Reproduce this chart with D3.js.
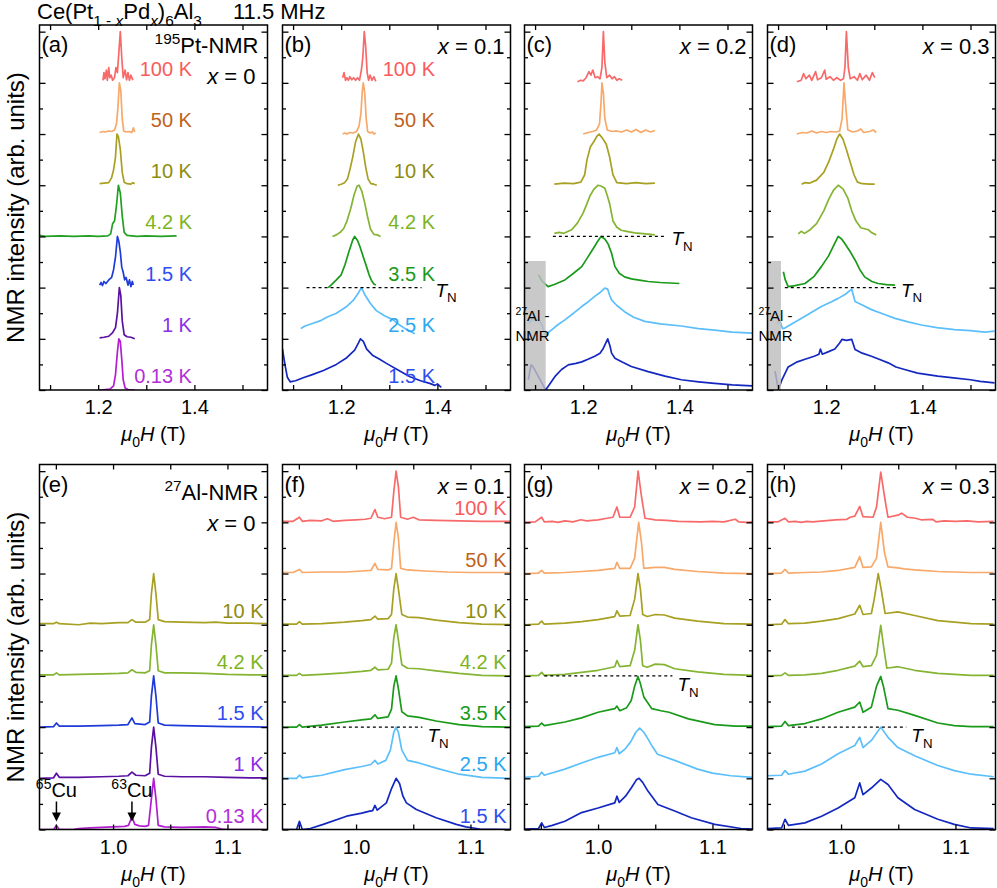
<!DOCTYPE html>
<html>
<head>
<meta charset="utf-8">
<script src="https://cdn.jsdelivr.net/npm/d3@7"></script>
<style>
body { margin: 0; background: #fff; }
svg { font-family: "Liberation Sans", Arial, sans-serif; }
</style>
</head>
<body>
<svg id="chart" width="997" height="888"></svg>
<script>
// field ranges (T) and vertical offsets (one unit per spectrum)
var xTopDomain = [1.078, 1.552];
var xBotDomain = [0.9357, 1.135];
var yMax = 7.13;
var topMajor = [1.2, 1.4], topMinor = [1.1, 1.3, 1.5];
var botMajor = [1.0, 1.1], botMinor = [0.95, 1.05];

var tempsPt0 = ["0.13 K", "1 K", "1.5 K", "4.2 K", "10 K", "50 K", "100 K"];
var tempsAl0 = ["0.13 K", "1 K", "1.5 K", "4.2 K", "10 K"];
var tempsDoped = ["1.5 K", "2.5 K", "3.5 K", "4.2 K", "10 K", "50 K", "100 K"];

var tempNames = ["100 K", "50 K", "10 K", "4.2 K", "3.5 K", "2.5 K", "1.5 K", "1 K", "0.13 K"];
var curveColors = ["#f86a6a", "#f8a868", "#a8a022", "#84b432", "#1a9a1a", "#5cbffc", "#1428c0", "#5a10a0", "#b01ed0"];
var labelColors = ["#fa5a5a", "#c0621c", "#8e8c10", "#7db41e", "#1a9a1a", "#2aa6f2", "#2e4cf0", "#8a2ee6", "#b22ed8"];

// ---- 195Pt-NMR spectra [field, normalised intensity] ----
var a_013K = [[1.203,0],[1.215,0.01],[1.225,0.02],[1.232,0.08],[1.236,0.3],[1.240,0.75],[1.243,1.0],[1.246,0.95],[1.249,0.6],[1.252,0.2],[1.256,0.04],[1.262,0.01],[1.270,0.0],[1.276,0.0]];
var a_1K = [[1.203,0.02],[1.212,0.03],[1.222,0.05],[1.230,0.12],[1.236,0.22],[1.240,0.5],[1.244,1.0],[1.247,0.85],[1.250,0.35],[1.254,0.08],[1.26,0.04],[1.268,0.03],[1.276,0.0]];
var a_15K = [[1.203,0.05],[1.206,0.1],[1.209,0.04],[1.212,0.12],[1.216,0.08],[1.222,0.15],[1.228,0.2],[1.232,0.35],[1.236,0.6],[1.240,1.0],[1.243,0.9],[1.246,0.7],[1.249,0.4],[1.252,0.3],[1.255,0.15],[1.258,0.2],[1.262,0.05],[1.265,0.15],[1.268,0.02],[1.271,0.12],[1.273,0.05]];
var a_42K = [[1.078,0.02],[1.09,0.0],[1.12,0.01],[1.15,0.0],[1.18,0.01],[1.20,0.0],[1.22,0.01],[1.226,0.05],[1.230,0.25],[1.234,0.3],[1.238,0.6],[1.242,1.0],[1.246,0.85],[1.250,0.4],[1.254,0.08],[1.26,0.02],[1.28,0.0],[1.30,0.01],[1.33,0.0],[1.363,0.01]];
var a_10K = [[1.203,0.03],[1.212,0.04],[1.222,0.05],[1.228,0.15],[1.232,0.3],[1.236,0.55],[1.239,1.0],[1.242,0.95],[1.246,0.7],[1.250,0.25],[1.254,0.06],[1.26,0.03],[1.268,0.02],[1.272,0.05],[1.276,0.03]];
var a_50K = [[1.203,0.03],[1.210,0.05],[1.215,0.04],[1.222,0.06],[1.228,0.05],[1.234,0.08],[1.238,0.2],[1.241,0.5],[1.244,1.0],[1.247,0.85],[1.250,0.3],[1.253,0.06],[1.258,0.04],[1.265,0.05],[1.270,0.03],[1.273,0.12],[1.276,0.04]];
var a_100K = [[1.210,0.05],[1.212,0.2],[1.214,0.08],[1.217,0.25],[1.219,0.05],[1.222,0.3],[1.224,0.1],[1.227,0.15],[1.230,0.05],[1.234,0.1],[1.237,0.3],[1.240,0.2],[1.243,0.6],[1.246,1.0],[1.249,0.5],[1.252,0.1],[1.256,0.25],[1.259,0.06],[1.262,0.2],[1.265,0.05],[1.268,0.15],[1.272,0.05]];

var b_15K = [[1.078,0.8],[1.083,0.5],[1.088,0.25],[1.094,0.16],[1.105,0.18],[1.121,0.24],[1.14,0.3],[1.163,0.38],[1.19,0.5],[1.21,0.62],[1.228,0.78],[1.236,0.92],[1.240,1.0],[1.246,0.95],[1.253,0.8],[1.265,0.68],[1.28,0.6],[1.294,0.52],[1.32,0.38],[1.343,0.26],[1.365,0.18],[1.384,0.13],[1.395,0.09],[1.400,0.12],[1.408,0.05]];
var b_25K = [[1.116,0.2],[1.125,0.25],[1.14,0.3],[1.156,0.35],[1.17,0.42],[1.19,0.5],[1.21,0.62],[1.225,0.75],[1.236,0.9],[1.242,1.0],[1.25,0.85],[1.26,0.7],[1.273,0.55],[1.29,0.45],[1.308,0.37],[1.32,0.28],[1.336,0.18],[1.345,0.14],[1.353,0.1]];
var b_35K = [[1.173,0.0],[1.18,0.06],[1.19,0.15],[1.2,0.25],[1.208,0.45],[1.216,0.7],[1.224,0.93],[1.228,1.0],[1.234,0.92],[1.239,0.8],[1.246,0.6],[1.253,0.4],[1.258,0.25],[1.263,0.14],[1.268,0.07],[1.272,0.05]];
var b_42K = [[1.182,0.0],[1.19,0.03],[1.198,0.08],[1.205,0.15],[1.212,0.3],[1.22,0.55],[1.227,0.82],[1.233,0.98],[1.237,1.0],[1.243,0.88],[1.249,0.65],[1.255,0.38],[1.261,0.14],[1.268,0.04],[1.275,0.03],[1.282,0.0]];
var b_10K = [[1.193,0.0],[1.2,0.02],[1.207,0.05],[1.213,0.12],[1.218,0.3],[1.224,0.55],[1.23,0.85],[1.236,1.0],[1.241,0.9],[1.246,0.65],[1.251,0.35],[1.256,0.12],[1.262,0.03],[1.268,0.02],[1.274,0.0]];
var b_50K = [[1.203,0.0],[1.208,0.02],[1.212,0.0],[1.218,0.03],[1.225,0.02],[1.232,0.05],[1.237,0.15],[1.241,0.4],[1.244,0.85],[1.246,1.0],[1.249,0.8],[1.252,0.3],[1.255,0.05],[1.26,0.02],[1.265,0.04],[1.268,0.0],[1.272,0.02]];
var b_100K = [[1.203,0.1],[1.206,0.2],[1.209,0.05],[1.212,0.1],[1.215,0.05],[1.218,0.12],[1.222,0.06],[1.226,0.1],[1.23,0.05],[1.234,0.1],[1.238,0.05],[1.242,0.25],[1.245,0.5],[1.248,1.0],[1.251,0.7],[1.254,0.2],[1.257,0.05],[1.26,0.15],[1.264,0.05],[1.268,0.12],[1.272,0.03]];

var c_15K = [[1.086,0.2],[1.0915,0.49],[1.096,0.45],[1.107,0.26],[1.122,0.0],[1.141,0.26],[1.155,0.4],[1.169,0.49],[1.185,0.52],[1.197,0.55],[1.21,0.6],[1.224,0.66],[1.235,0.72],[1.241,0.8],[1.251,1.0],[1.256,0.85],[1.259,0.72],[1.266,0.62],[1.28,0.55],[1.30,0.46],[1.335,0.36],[1.37,0.27],[1.404,0.2],[1.44,0.16],[1.473,0.13],[1.51,0.1],[1.551,0.08]];
var c_25K = [[1.088,0.3],[1.095,0.4],[1.10,0.35],[1.108,0.38],[1.115,0.25],[1.122,0.08],[1.135,0.18],[1.148,0.28],[1.162,0.37],[1.18,0.5],[1.197,0.63],[1.21,0.72],[1.224,0.83],[1.237,0.92],[1.245,0.99],[1.251,0.97],[1.255,0.85],[1.259,0.76],[1.27,0.65],[1.286,0.53],[1.305,0.42],[1.328,0.34],[1.36,0.29],[1.404,0.25],[1.44,0.2],[1.473,0.17],[1.51,0.13],[1.551,0.11]];
var c_35K = [[1.107,0.25],[1.115,0.12],[1.127,0.02],[1.14,0.06],[1.162,0.15],[1.18,0.28],[1.197,0.41],[1.21,0.6],[1.222,0.78],[1.23,0.9],[1.237,1.0],[1.245,0.95],[1.252,0.85],[1.259,0.67],[1.266,0.41],[1.275,0.28],[1.286,0.21],[1.30,0.17],[1.32,0.14],[1.335,0.12],[1.36,0.1],[1.38,0.09],[1.40,0.08]];
var c_42K = [[1.14,0.06],[1.15,0.08],[1.16,0.06],[1.176,0.13],[1.188,0.26],[1.2,0.46],[1.207,0.62],[1.214,0.79],[1.222,0.92],[1.231,1.0],[1.238,0.98],[1.245,0.94],[1.25,0.8],[1.255,0.64],[1.262,0.3],[1.27,0.18],[1.279,0.12],[1.29,0.1],[1.307,0.07],[1.33,0.05],[1.349,0.03]];
var c_10K = [[1.14,0.02],[1.16,0.04],[1.18,0.03],[1.195,0.06],[1.203,0.2],[1.208,0.5],[1.215,0.75],[1.222,0.85],[1.228,0.95],[1.233,1.0],[1.24,0.92],[1.248,0.8],[1.255,0.55],[1.262,0.2],[1.27,0.05],[1.29,0.03],[1.31,0.05],[1.33,0.03],[1.349,0.04]];
var c_50K = [[1.2,0.0],[1.21,0.03],[1.22,0.05],[1.228,0.08],[1.234,0.2],[1.237,0.6],[1.239,1.0],[1.242,0.8],[1.245,0.3],[1.25,0.08],[1.26,0.05],[1.27,0.06],[1.28,0.04],[1.29,0.08],[1.30,0.04],[1.31,0.09],[1.32,0.03],[1.33,0.08],[1.34,0.04],[1.349,0.07]];
var c_100K = [[1.188,0.02],[1.195,0.05],[1.2,0.04],[1.206,0.1],[1.212,0.22],[1.216,0.15],[1.22,0.25],[1.225,0.1],[1.23,0.12],[1.235,0.08],[1.239,0.3],[1.242,1.0],[1.245,0.4],[1.249,0.1],[1.255,0.15],[1.26,0.08],[1.265,0.12],[1.27,0.05],[1.275,0.08],[1.281,0.05]];

var d_15K = [[1.0936,0.37],[1.097,0.2],[1.1004,0.0],[1.108,0.2],[1.121,0.45],[1.14,0.55],[1.156,0.6],[1.175,0.66],[1.185,0.7],[1.188,0.8],[1.192,0.7],[1.205,0.75],[1.218,0.8],[1.228,0.92],[1.233,0.99],[1.242,0.97],[1.253,0.99],[1.26,0.79],[1.275,0.72],[1.294,0.66],[1.31,0.6],[1.329,0.53],[1.345,0.45],[1.363,0.4],[1.39,0.33],[1.432,0.27],[1.46,0.24],[1.5,0.2],[1.52,0.17],[1.55,0.14]];
var d_25K = [[1.098,0.3],[1.104,0.35],[1.109,0.2],[1.114,0.21],[1.13,0.3],[1.156,0.44],[1.175,0.55],[1.19,0.63],[1.21,0.72],[1.225,0.79],[1.24,0.87],[1.253,0.97],[1.26,0.73],[1.275,0.66],[1.294,0.57],[1.32,0.48],[1.343,0.4],[1.37,0.33],[1.398,0.27],[1.43,0.22],[1.467,0.18],[1.5,0.16],[1.53,0.13],[1.55,0.15]];
var d_35K = [[1.111,0.31],[1.115,0.15],[1.121,0.02],[1.135,0.04],[1.156,0.08],[1.175,0.22],[1.19,0.41],[1.205,0.62],[1.218,0.87],[1.225,1.0],[1.232,0.95],[1.238,0.87],[1.25,0.7],[1.26,0.54],[1.27,0.35],[1.28,0.21],[1.295,0.12],[1.308,0.08],[1.325,0.06],[1.343,0.05]];
var d_42K = [[1.142,0.05],[1.148,0.1],[1.155,0.06],[1.165,0.12],[1.18,0.25],[1.195,0.5],[1.205,0.72],[1.215,0.9],[1.225,1.0],[1.235,0.93],[1.245,0.75],[1.253,0.5],[1.262,0.3],[1.272,0.17],[1.288,0.13],[1.295,0.07],[1.304,0.03]];
var d_10K = [[1.149,0.02],[1.155,0.05],[1.165,0.04],[1.18,0.1],[1.195,0.25],[1.205,0.45],[1.215,0.7],[1.222,0.9],[1.228,1.0],[1.235,0.9],[1.242,0.7],[1.25,0.45],[1.258,0.2],[1.265,0.06],[1.275,0.03],[1.29,0.02],[1.301,0.02]];
var d_50K = [[1.139,0.0],[1.15,0.03],[1.16,0.02],[1.17,0.06],[1.18,0.02],[1.19,0.05],[1.2,0.03],[1.21,0.05],[1.22,0.04],[1.228,0.06],[1.233,0.3],[1.237,1.0],[1.241,0.5],[1.245,0.08],[1.255,0.04],[1.265,0.06],[1.272,0.1],[1.278,0.03],[1.29,0.05],[1.298,0.08],[1.304,0.03]];
var d_100K = [[1.139,0.02],[1.148,0.05],[1.153,0.18],[1.158,0.08],[1.165,0.15],[1.17,0.05],[1.178,0.22],[1.182,0.06],[1.19,0.1],[1.197,0.25],[1.2,0.07],[1.208,0.12],[1.215,0.05],[1.222,0.1],[1.23,0.05],[1.236,0.08],[1.239,0.3],[1.242,1.0],[1.246,0.3],[1.25,0.08],[1.258,0.12],[1.265,0.05],[1.27,0.18],[1.275,0.06],[1.283,0.15],[1.29,0.05],[1.296,0.2],[1.301,0.1]];

// ---- 27Al-NMR spectra ----
var e_013K = [[0.9357,0],[0.948,0],[0.9505,0.08],[0.953,0],[0.965,0.0],[0.97,0.02],[0.98,0.03],[0.99,0.04],[1.0,0.05],[1.01,0.06],[1.0135,0.08],[1.0165,0.25],[1.019,0.1],[1.023,0.07],[1.028,0.06],[1.031,0.08],[1.0335,0.6],[1.0355,1.0],[1.0375,0.6],[1.0395,0.08],[1.045,0.05],[1.06,0.04],[1.08,0.05],[1.09,0.04],[1.095,0.01],[1.10,0.0],[1.135,0.0]];
var e_1K = [[0.9357,0.0],[0.948,0.01],[0.9505,0.1],[0.953,0.02],[0.97,0.02],[0.99,0.03],[1.005,0.04],[1.013,0.05],[1.0165,0.12],[1.02,0.06],[1.028,0.05],[1.032,0.1],[1.0335,0.6],[1.0355,1.0],[1.0375,0.6],[1.0395,0.08],[1.045,0.04],[1.06,0.03],[1.08,0.03],[1.1,0.02],[1.12,0.01],[1.135,0.01]];
var e_15K = [[0.9357,0.0],[0.948,0.01],[0.9505,0.08],[0.953,0.02],[0.97,0.02],[0.99,0.03],[1.005,0.04],[1.013,0.05],[1.0165,0.18],[1.019,0.07],[1.028,0.05],[1.032,0.1],[1.0335,0.6],[1.0355,1.0],[1.0375,0.6],[1.0395,0.08],[1.045,0.04],[1.06,0.03],[1.08,0.02],[1.1,0.01],[1.135,0.0]];
var e_42K = [[0.9357,0.02],[0.948,0.02],[0.9505,0.06],[0.953,0.02],[0.97,0.03],[0.99,0.04],[1.005,0.05],[1.013,0.06],[1.0165,0.12],[1.02,0.07],[1.028,0.06],[1.032,0.1],[1.0335,0.6],[1.0355,1.0],[1.0375,0.6],[1.0395,0.1],[1.045,0.06],[1.06,0.06],[1.08,0.05],[1.1,0.03],[1.12,0.02],[1.135,0.02]];
var e_10K = [[0.9357,0.02],[0.948,0.02],[0.9505,0.05],[0.953,0.02],[0.97,0.0],[0.98,0.03],[0.99,0.02],[1.005,0.04],[1.013,0.04],[1.0165,0.1],[1.02,0.05],[1.028,0.05],[1.032,0.1],[1.0335,0.6],[1.0355,1.0],[1.0375,0.6],[1.0395,0.1],[1.045,0.06],[1.06,0.05],[1.08,0.04],[1.09,0.05],[1.1,0.03],[1.12,0.03],[1.135,0.02]];

var f_15K = [[0.9357,0.0],[0.948,0.0],[0.9505,0.16],[0.953,0.0],[0.96,0.02],[0.9713,0.1],[0.9917,0.26],[1.005,0.32],[1.012,0.36],[1.0145,0.37],[1.0165,0.47],[1.0185,0.38],[1.0265,0.52],[1.031,0.8],[1.035,1.0],[1.038,0.9],[1.041,0.65],[1.044,0.52],[1.0527,0.39],[1.07,0.23],[1.0876,0.1],[1.096,0.05],[1.108,0.01],[1.135,0.0]];
var f_25K = [[0.9357,0.0],[0.948,0.0],[0.9505,0.06],[0.953,0.01],[0.97,0.06],[0.99,0.17],[1.005,0.23],[1.013,0.27],[1.0165,0.35],[1.019,0.28],[1.026,0.35],[1.03,0.55],[1.033,0.9],[1.035,1.0],[1.037,0.9],[1.04,0.55],[1.045,0.35],[1.055,0.3],[1.07,0.2],[1.09,0.08],[1.11,0.02],[1.135,0.0]];
var f_35K = [[0.9357,0.0],[0.948,0.0],[0.9505,0.05],[0.953,0.0],[0.97,0.04],[0.99,0.1],[1.005,0.14],[1.013,0.16],[1.0165,0.24],[1.019,0.17],[1.028,0.2],[1.031,0.35],[1.033,0.8],[1.035,1.0],[1.037,0.75],[1.04,0.3],[1.045,0.22],[1.055,0.19],[1.07,0.12],[1.09,0.05],[1.11,0.01],[1.135,0.0]];
var f_42K = [[0.9357,0.01],[0.948,0.01],[0.9505,0.05],[0.953,0.01],[0.97,0.03],[0.99,0.06],[1.005,0.09],[1.013,0.11],[1.0165,0.17],[1.019,0.12],[1.028,0.13],[1.031,0.25],[1.033,0.75],[1.035,1.0],[1.037,0.7],[1.04,0.22],[1.045,0.15],[1.055,0.14],[1.07,0.1],[1.09,0.05],[1.11,0.01],[1.135,0.0]];
var f_10K = [[0.9357,0.01],[0.948,0.01],[0.9505,0.06],[0.953,0.01],[0.97,0.02],[0.99,0.05],[1.005,0.08],[1.013,0.1],[1.0165,0.17],[1.019,0.11],[1.028,0.12],[1.031,0.2],[1.033,0.7],[1.035,1.0],[1.037,0.7],[1.04,0.2],[1.045,0.15],[1.055,0.14],[1.07,0.09],[1.09,0.04],[1.11,0.01],[1.135,0.0]];
var f_50K = [[0.9357,0.02],[0.945,0.02],[0.9505,0.08],[0.953,0.02],[0.97,0.03],[0.99,0.03],[1.005,0.05],[1.013,0.06],[1.0165,0.2],[1.019,0.08],[1.028,0.07],[1.031,0.1],[1.033,0.6],[1.035,1.0],[1.037,0.7],[1.039,0.1],[1.045,0.07],[1.06,0.05],[1.08,0.03],[1.1,0.02],[1.135,0.02]];
var f_100K = [[0.9357,0.02],[0.945,0.02],[0.9505,0.1],[0.953,0.02],[0.96,0.04],[0.97,0.03],[0.975,0.07],[0.98,0.02],[0.99,0.04],[1.0,0.05],[1.008,0.06],[1.013,0.08],[1.0165,0.25],[1.019,0.1],[1.025,0.07],[1.031,0.1],[1.033,0.6],[1.035,1.0],[1.037,0.7],[1.039,0.1],[1.045,0.06],[1.05,0.1],[1.055,0.05],[1.07,0.04],[1.09,0.03],[1.11,0.02],[1.135,0.02]];

var g_15K = [[0.936,0.01],[0.948,0.02],[0.9507,0.13],[0.953,0.04],[0.96,0.08],[0.971,0.16],[0.9856,0.33],[1.0,0.42],[1.0146,0.52],[1.0165,0.65],[1.0185,0.53],[1.024,0.65],[1.029,0.81],[1.0335,0.97],[1.0358,1.0],[1.039,0.92],[1.0436,0.75],[1.0523,0.49],[1.067,0.36],[1.0815,0.23],[1.102,0.1],[1.125,0.02],[1.135,0.01]];
var g_25K = [[0.936,0.02],[0.948,0.04],[0.9507,0.12],[0.953,0.06],[0.971,0.18],[0.9856,0.3],[1.0,0.41],[1.0146,0.5],[1.0165,0.6],[1.0185,0.48],[1.024,0.58],[1.029,0.73],[1.033,0.9],[1.0364,0.98],[1.04,0.9],[1.0436,0.77],[1.048,0.6],[1.052,0.47],[1.067,0.35],[1.087,0.18],[1.1,0.1],[1.116,0.05],[1.135,0.02]];
var g_35K = [[0.936,0.01],[0.948,0.02],[0.9507,0.08],[0.953,0.03],[0.971,0.1],[0.9856,0.18],[1.0,0.29],[1.0146,0.36],[1.0165,0.41],[1.019,0.32],[1.025,0.38],[1.029,0.52],[1.032,0.8],[1.0349,0.99],[1.037,0.85],[1.04,0.59],[1.047,0.36],[1.055,0.32],[1.062,0.29],[1.079,0.16],[1.102,0.05],[1.12,0.02],[1.135,0.02]];
var g_42K = [[0.936,0.0],[0.948,0.01],[0.9507,0.07],[0.953,0.01],[0.971,0.03],[0.9856,0.07],[1.0,0.11],[1.0146,0.18],[1.0165,0.3],[1.019,0.18],[1.028,0.2],[1.032,0.5],[1.0349,1.0],[1.037,0.7],[1.039,0.2],[1.043,0.17],[1.05,0.23],[1.058,0.22],[1.067,0.14],[1.087,0.08],[1.11,0.03],[1.135,0.01]];
var g_10K = [[0.936,0.0],[0.948,0.01],[0.9507,0.07],[0.953,0.01],[0.971,0.03],[0.9856,0.06],[1.0,0.1],[1.0146,0.16],[1.0165,0.27],[1.019,0.17],[1.028,0.18],[1.032,0.5],[1.0349,1.0],[1.037,0.7],[1.039,0.2],[1.043,0.16],[1.05,0.2],[1.058,0.19],[1.067,0.13],[1.087,0.07],[1.11,0.02],[1.135,0.01]];
var g_50K = [[0.936,0.0],[0.948,0.01],[0.9507,0.06],[0.953,0.01],[0.971,0.02],[0.9856,0.04],[1.0,0.06],[1.0146,0.1],[1.0165,0.22],[1.019,0.1],[1.028,0.1],[1.032,0.3],[1.0355,1.0],[1.038,0.6],[1.04,0.1],[1.05,0.12],[1.058,0.12],[1.067,0.08],[1.087,0.04],[1.11,0.01],[1.135,0.0]];
var g_100K = [[0.936,0.0],[0.945,0.01],[0.9507,0.1],[0.953,0.01],[0.96,0.02],[0.965,0.0],[0.971,0.03],[0.978,0.01],[0.985,0.05],[0.99,0.03],[1.0,0.05],[1.008,0.08],[1.013,0.1],[1.0165,0.3],[1.019,0.1],[1.028,0.1],[1.032,0.3],[1.035,1.0],[1.038,0.5],[1.041,0.08],[1.05,0.05],[1.06,0.04],[1.07,0.02],[1.09,0.01],[1.1,0.02],[1.11,0.01],[1.12,0.06],[1.123,0.01],[1.13,0.0],[1.135,0.01]];

var h_15K = [[0.9357,0.02],[0.948,0.03],[0.951,0.2],[0.954,0.08],[0.9684,0.13],[0.983,0.26],[0.9974,0.42],[1.012,0.62],[1.0163,0.91],[1.0192,0.68],[1.0265,0.81],[1.0347,0.98],[1.041,0.88],[1.0497,0.62],[1.0643,0.39],[1.0846,0.2],[1.099,0.1],[1.1137,0.03],[1.1334,0.02]];
var h_25K = [[0.9357,0.05],[0.948,0.06],[0.951,0.15],[0.954,0.08],[0.9684,0.14],[0.983,0.28],[0.9974,0.48],[1.012,0.64],[1.0163,0.8],[1.0192,0.6],[1.0265,0.74],[1.0347,1.0],[1.041,0.8],[1.0497,0.6],[1.0643,0.44],[1.0846,0.25],[1.099,0.15],[1.1137,0.08],[1.1334,0.03]];
var h_35K = [[0.9357,0.01],[0.948,0.02],[0.951,0.11],[0.954,0.03],[0.9684,0.07],[0.983,0.16],[0.9974,0.29],[1.012,0.39],[1.0163,0.49],[1.0192,0.29],[1.0265,0.39],[1.031,0.8],[1.0347,0.99],[1.037,0.8],[1.041,0.36],[1.0497,0.33],[1.0643,0.23],[1.0846,0.08],[1.099,0.03],[1.1137,0.01],[1.1334,0.01]];
var h_42K = [[0.9357,0.0],[0.948,0.01],[0.951,0.06],[0.954,0.01],[0.9684,0.02],[0.983,0.05],[0.9974,0.11],[1.012,0.19],[1.0163,0.29],[1.0192,0.18],[1.0265,0.2],[1.031,0.4],[1.0347,0.99],[1.037,0.6],[1.04,0.15],[1.0497,0.18],[1.0643,0.11],[1.0846,0.05],[1.1137,0.01],[1.1334,0.01]];
var h_10K = [[0.9357,0.0],[0.948,0.01],[0.951,0.1],[0.954,0.02],[0.9684,0.03],[0.983,0.07],[0.9974,0.12],[1.012,0.21],[1.0163,0.38],[1.0192,0.2],[1.0265,0.22],[1.029,0.5],[1.0325,1.0],[1.035,0.7],[1.0385,0.22],[1.0497,0.25],[1.0643,0.18],[1.0846,0.08],[1.1137,0.02],[1.1334,0.01]];
var h_50K = [[0.9357,0.0],[0.948,0.01],[0.951,0.08],[0.954,0.01],[0.9684,0.02],[0.983,0.03],[0.9974,0.06],[1.012,0.12],[1.0163,0.33],[1.0192,0.12],[1.0265,0.13],[1.031,0.3],[1.0347,1.0],[1.038,0.4],[1.041,0.13],[1.0497,0.11],[1.055,0.09],[1.0643,0.07],[1.0846,0.04],[1.1137,0.02],[1.1334,0.02]];
var h_100K = [[0.9357,0.01],[0.945,0.01],[0.951,0.08],[0.954,0.01],[0.96,0.02],[0.965,0.0],[0.97,0.02],[0.975,0.01],[0.985,0.03],[0.995,0.05],[1.005,0.06],[1.008,0.1],[1.012,0.12],[1.0163,0.31],[1.0192,0.11],[1.028,0.1],[1.031,0.3],[1.0347,0.98],[1.038,0.5],[1.041,0.1],[1.0497,0.14],[1.053,0.18],[1.058,0.1],[1.065,0.08],[1.07,0.05],[1.08,0.06],[1.083,0.01],[1.09,0.03],[1.1,0.02],[1.11,0.03],[1.12,0.01],[1.1334,0.02]];

// T_N markers: panel, field from, field to, offset level
var tnPanels = ["b", "c", "d", "f", "g", "h"];
var tnFrom = [1.128, 1.137, 1.114, 0.957, 0.953, 0.957];
var tnTo = [1.367, 1.373, 1.345, 1.058, 1.065, 1.057];
var tnLevel = [2, 3, 2, 2, 3, 2];

// grey 27Al regions in the Pt spectra
var bandPanels = ["c", "d"];
var bandTo = [1.122, 1.106];
var bandTop = 2.52;

// Cu impurity markers in (e)
var cuNames = ["65", "63"];
var cuFields = [0.9505, 1.0165];

var panels = [
  {id: "a", col: 0, row: 0, temps: tempsPt0, specs: [a_013K, a_1K, a_15K, a_42K, a_10K, a_50K, a_100K], labels: "mid", xs: "0", nuc: "195Pt"},
  {id: "b", col: 1, row: 0, temps: tempsDoped, specs: [b_15K, b_25K, b_35K, b_42K, b_10K, b_50K, b_100K], labels: "mid", xs: "0.1"},
  {id: "c", col: 2, row: 0, temps: tempsDoped, specs: [c_15K, c_25K, c_35K, c_42K, c_10K, c_50K, c_100K], labels: null, xs: "0.2"},
  {id: "d", col: 3, row: 0, temps: tempsDoped, specs: [d_15K, d_25K, d_35K, d_42K, d_10K, d_50K, d_100K], labels: null, xs: "0.3"},
  {id: "e", col: 0, row: 1, temps: tempsAl0, specs: [e_013K, e_1K, e_15K, e_42K, e_10K], labels: "right", xs: "0", nuc: "27Al"},
  {id: "f", col: 1, row: 1, temps: tempsDoped, specs: [f_15K, f_25K, f_35K, f_42K, f_10K, f_50K, f_100K], labels: "right", xs: "0.1"},
  {id: "g", col: 2, row: 1, temps: tempsDoped, specs: [g_15K, g_25K, g_35K, g_42K, g_10K, g_50K, g_100K], labels: null, xs: "0.2"},
  {id: "h", col: 3, row: 1, temps: tempsDoped, specs: [h_15K, h_25K, h_35K, h_42K, h_10K, h_50K, h_100K], labels: null, xs: "0.3"}
];

var svg = d3.select("#chart");
var lefts = [39.5, 282.5, 524.5, 767.5];
var tops = [25, 464.5];
var panelW = 228, panelH = 365;

// text with italic / sub / superscript pieces
function richText(g, x, y, parts, size, anchor, fill) {
  var t = g.append("text").attr("x", x).attr("y", y)
    .attr("font-size", size).attr("text-anchor", anchor || "start")
    .attr("fill", fill || "#000");
  var shift = 0;
  parts.forEach(function(p) {
    var s = p[1] || "";
    var target = 0;
    if (s.indexOf("sub") >= 0) target = size * 0.3;
    if (s.indexOf("sup") >= 0) target = -size * 0.4;
    var ts = t.append("tspan").text(p[0]).attr("dy", target - shift);
    if (target != 0) ts.attr("font-size", size * 0.7);
    if (s.indexOf("i") >= 0) ts.attr("font-style", "italic");
    shift = target;
  });
  return t;
}

function curveColor(id, temp) {
  if (temp == "4.2 K" && id == "a") return "#22a022";
  if (temp == "1.5 K" && (id == "a" || id == "e")) return "#1e3ad8";
  return curveColors[tempNames.indexOf(temp)];
}

panels.forEach(function(p) {
  var x0 = lefts[p.col], y0 = tops[p.row];
  var xScale = d3.scaleLinear().domain(p.row == 0 ? xTopDomain : xBotDomain).range([x0, x0 + panelW]);
  var yScale = d3.scaleLinear().domain([0, yMax]).range([y0 + panelH, y0]);
  var g = svg.append("g");

  g.append("clipPath").attr("id", "clip-" + p.id)
    .append("rect").attr("x", x0).attr("y", y0).attr("width", panelW).attr("height", panelH);

  var lines = g.append("g").attr("clip-path", "url(#clip-" + p.id + ")");
  p.specs.forEach(function(spec, i) {
    var line = d3.line()
      .x(function(d) { return xScale(d[0]); })
      .y(function(d) { return yScale(d[1] + i); });
    lines.append("path").datum(spec).attr("d", line)
      .attr("fill", "none").attr("stroke", curveColor(p.id, p.temps[i]))
      .attr("stroke-width", 1.7).attr("stroke-linejoin", "round");
  });

  // grey band over the 27Al signal
  var bi = bandPanels.indexOf(p.id);
  if (bi >= 0) {
    g.append("rect").attr("x", x0).attr("y", yScale(bandTop))
      .attr("width", xScale(bandTo[bi]) - x0).attr("height", yScale(0) - yScale(bandTop))
      .attr("fill", "#bdbdbd").attr("opacity", 0.82);
  }

  // axes (inward ticks on all four sides)
  var major = p.row == 0 ? topMajor : botMajor;
  var minor = p.row == 0 ? topMinor : botMinor;
  var yMajor = d3.range(0, 8), yMinor = d3.range(0.5, 7, 1);
  function clean(sel) { sel.select(".domain").remove(); sel.selectAll("line").attr("stroke-width", 1.3); }
  g.append("g").attr("transform", "translate(0," + (y0 + panelH) + ")")
    .call(d3.axisBottom(xScale).tickValues(major).tickSize(-5).tickPadding(10).tickFormat(d3.format(".1f")))
    .call(clean)
    .selectAll("text").attr("font-size", 20).attr("font-family", "Liberation Sans, Arial, sans-serif");
  g.append("g").attr("transform", "translate(0," + (y0 + panelH) + ")")
    .call(d3.axisBottom(xScale).tickValues(minor).tickSize(-5).tickFormat("")).call(clean);
  g.append("g").attr("transform", "translate(0," + y0 + ")")
    .call(d3.axisTop(xScale).tickValues(major.concat(minor)).tickSize(-5).tickFormat("")).call(clean);
  g.append("g").attr("transform", "translate(" + x0 + ",0)")
    .call(d3.axisLeft(yScale).tickValues(yMajor).tickSize(-6).tickFormat("")).call(clean);
  g.append("g").attr("transform", "translate(" + x0 + ",0)")
    .call(d3.axisLeft(yScale).tickValues(yMinor).tickSize(-3.5).tickFormat("")).call(clean);
  g.append("g").attr("transform", "translate(" + (x0 + panelW) + ",0)")
    .call(d3.axisRight(yScale).tickValues(yMajor).tickSize(-6).tickFormat("")).call(clean);
  g.append("g").attr("transform", "translate(" + (x0 + panelW) + ",0)")
    .call(d3.axisRight(yScale).tickValues(yMinor).tickSize(-3.5).tickFormat("")).call(clean);

  g.append("rect").attr("x", x0).attr("y", y0).attr("width", panelW).attr("height", panelH)
    .attr("fill", "none").attr("stroke", "#000").attr("stroke-width", 1.5);

  // T_N dashed line
  var ti = tnPanels.indexOf(p.id);
  if (ti >= 0) {
    var ty = yScale(tnLevel[ti]);
    g.append("line").attr("x1", xScale(tnFrom[ti])).attr("x2", xScale(tnTo[ti]))
      .attr("y1", ty).attr("y2", ty).attr("stroke", "#000").attr("stroke-width", 1.3)
      .attr("stroke-dasharray", "3,3");
    var tx = xScale(tnTo[ti]) + (p.id == "b" ? 14 : 5);
    richText(g, tx, ty + (p.row == 0 ? 9 : 15), [["T", "i"], ["N", "sub"]], 19);
  }

  // temperature labels
  if (p.labels) {
    p.temps.forEach(function(t, i) {
      var lx = p.labels == "mid" ? xScale(1.395) : x0 + panelW - 4;
      g.append("text").attr("x", lx).attr("y", yScale(i) - 7)
        .attr("text-anchor", "end").attr("font-size", 20)
        .attr("fill", labelColors[tempNames.indexOf(t)]).text(t);
    });
  }

  // panel tag and composition
  g.append("text").attr("x", x0 + 2).attr("y", y0 + 27).attr("font-size", 22).text("(" + p.id + ")");
  if (p.nuc) {
    var m = p.nuc.match(/^(\d+)(.*)$/);
    var ny = p.row == 0 ? y0 + 28 : y0 + 35;
    richText(g, x0 + panelW - 9, ny, [[m[1], "sup"], [m[2] + "-NMR", ""]], 22, "end");
    richText(g, x0 + panelW - 12, ny + 31, [["x", "i"], [" = " + p.xs, ""]], 22, "end");
  } else {
    richText(g, x0 + panelW - 6, y0 + 29, [["x", "i"], [" = " + p.xs, ""]], 22, "end");
  }

  if (bi >= 0) {
    richText(g, x0 + 8, yScale(1.34), [["27", "sup"], ["Al -", ""]], 15, "middle");
    g.append("text").attr("x", x0 + 8).attr("y", yScale(0.95)).attr("font-size", 15)
      .attr("text-anchor", "middle").text("NMR");
  }

  // Cu markers
  if (p.id == "e") {
    cuFields.forEach(function(f, k) {
      var cx = xScale(f);
      var tip = y0 + panelH - 8;
      g.append("line").attr("x1", cx).attr("x2", cx).attr("y1", tip - 20).attr("y2", tip - 8)
        .attr("stroke", "#000").attr("stroke-width", 1.5);
      g.append("path").attr("d", "M" + (cx - 4.5) + "," + (tip - 9) + "L" + (cx + 4.5) + "," + (tip - 9) + "L" + cx + "," + tip + "Z")
        .attr("fill", "#000");
      richText(g, cx, tip - 25, [[cuNames[k], "sup"], ["Cu", ""]], 20, "middle");
    });
  }

  // x axis title
  richText(g, x0 + panelW / 2, y0 + panelH + 51, [["\u03bc", "i"], ["0", "sub"], ["H", "i"], [" (T)", ""]], 20, "middle");
});

// y axis titles
tops.forEach(function(t) {
  svg.append("text").attr("transform", "translate(15," + (t + panelH / 2) + ") rotate(-90)")
    .attr("text-anchor", "middle").attr("dominant-baseline", "central")
    .attr("font-size", 24).text("NMR intensity (arb. units)");
});

// title
richText(svg, 37, 19, [["Ce(Pt", ""], ["1 - ", "sub"], ["x", "subi"], ["Pd", ""], ["x", "subi"], [")", ""], ["6", "sub"], ["Al", ""], ["3", "sub"]], 22);
svg.append("text").attr("x", 233).attr("y", 19).attr("font-size", 22).text("11.5 MHz");
</script>
</body>
</html>
